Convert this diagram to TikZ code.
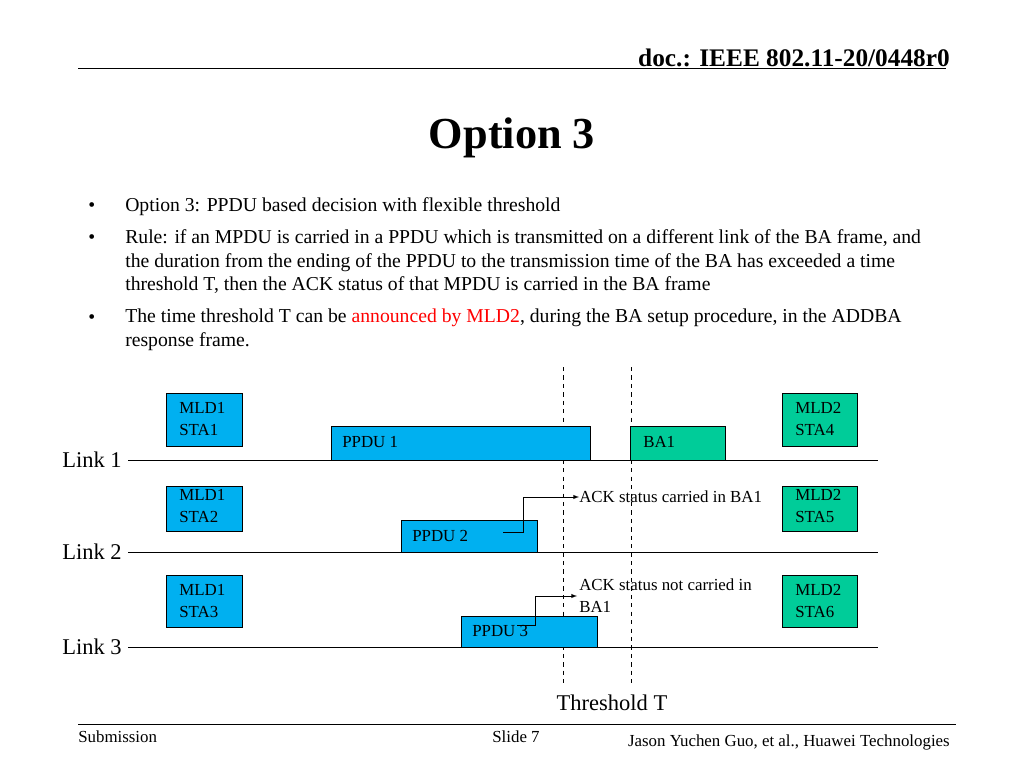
\documentclass[tikz,border=0pt]{standalone}
\usepackage{fontspec}
\setmainfont{Liberation Serif}
\begin{document}
\begin{tikzpicture}[x=0.025cm,y=-0.025cm]
\definecolor{sb}{HTML}{00B0F0}\definecolor{sg}{HTML}{00CC99}
\tikzset{bl/.style={draw=black,fill=sb},gbox/.style={draw=black,fill=sg},
  lbl/.style={font=\fontsize{12}{15.5}\selectfont,anchor=west,align=left,inner sep=0pt},
  body/.style={font=\fontsize{14}{17}\selectfont,anchor=west,inner sep=0pt,align=left}}
\useasboundingbox (0,0) rectangle (1024,768);
\node[anchor=east,font=\bfseries\fontsize{18}{20}\selectfont,inner sep=0pt] (hdr) at (950,58) {doc.: IEEE 802.11-20/0448r0};
\draw (78,68) -- (946,68);
\node[font=\bfseries\fontsize{31.5}{34}\selectfont] (title) at (512,138) {Option 3};
\foreach \y in {207,239,319} \node[body] at (88,\y) {•};
\node[body] (b1) at (125,207) {Option 3: PPDU based decision with flexible threshold};
\node[body,anchor=north west] (b2) at (125,229) {Rule: if an MPDU is carried in a PPDU which is transmitted on a different link of the BA frame, and\\the duration from the ending of the PPDU to the transmission time of the BA has exceeded a time\\threshold T, then the ACK status of that MPDU is carried in the BA frame};
\node[body,anchor=north west] (b3) at (125,309) {The time threshold T can be \textcolor{red}{announced by MLD2}, during the BA setup procedure, in the ADDBA\\response frame.};
% dashed
\draw[dashed] (563,367) -- (563,683);
\draw[dashed] (631,367) -- (631,683);
% boxes
\draw[bl] (166,393) rectangle (242,446); \node[lbl] (s1) at (179,419) {MLD1\\STA1};
\draw[gbox] (782,393) rectangle (857,446); \node[lbl] (s4) at (795,419) {MLD2\\STA4};
\draw[bl] (331,426) rectangle (590,460); \node[lbl] (p1) at (342,442) {PPDU 1};
\draw[gbox] (630,426) rectangle (725,460); \node[lbl] (ba) at (643,442) {BA1};
\draw[bl] (166,486) rectangle (242,531); \node[lbl] (s2) at (179,506) {MLD1\\STA2};
\draw[gbox] (782,486) rectangle (857,531); \node[lbl] (s5) at (795,506) {MLD2\\STA5};
\draw[bl] (401,520) rectangle (537,552); \node[lbl] (p2) at (412,536) {PPDU 2};
\draw[bl] (166,575) rectangle (242,627); \node[lbl] (s3) at (179,601) {MLD1\\STA3};
\draw[gbox] (782,575) rectangle (857,627); \node[lbl] (s6) at (795,601) {MLD2\\STA6};
\draw[bl] (461,616) rectangle (597,647); \node[lbl] (p3) at (472,631) {PPDU 3};
% links
\foreach \y/\n in {460/1,552/2,647/3}{
  \draw (128,\y) -- (878,\y);
  \node[anchor=east,font=\fontsize{16}{18}\selectfont,inner sep=0pt] (L\n) at (122,\y) {Link \n};}
% arrows
\node[lbl] (a1) at (579,497) {ACK status carried in BA1};
\draw[-latex] (503,532) -- (523,532) -- (523,497) -- (a1.west);
\node[lbl] (a2) at (579,596) {ACK status not carried in\\BA1};
\coordinate (a2e) at (577,596);
\draw[-latex] (517,625) -- (535,625) -- (535,596) -- (a2e);
\node[font=\fontsize{16}{18}\selectfont] (thr) at (612,703) {Threshold T};
% footer
\draw (78,724) -- (956,724);
\node[anchor=west,font=\fontsize{12}{14}\selectfont,inner sep=0pt] (sub) at (78,737) {Submission};
\node[font=\fontsize{12}{14}\selectfont,inner sep=0pt] (sl) at (516,737) {Slide 7};
\node[anchor=east,font=\fontsize{12}{14}\selectfont,inner sep=0pt] (au) at (950,742) {Jason Yuchen Guo, et al., Huawei Technologies};
\end{tikzpicture}
\end{document}
